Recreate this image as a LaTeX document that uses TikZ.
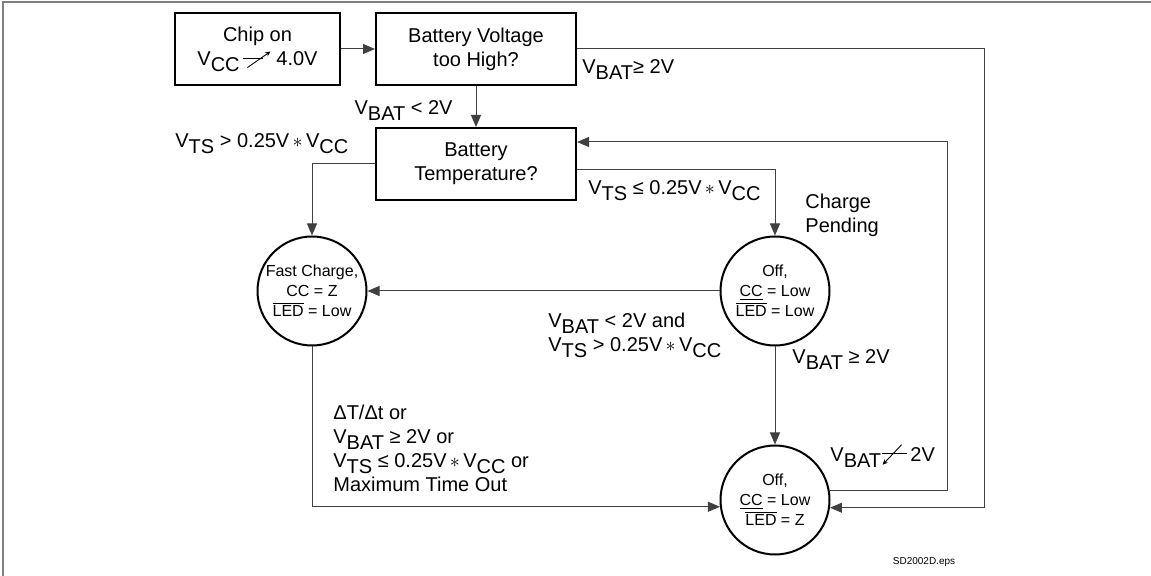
\documentclass[tikz,border=0pt]{standalone}
\usepackage{fontspec}
\setmainfont{Liberation Sans}
\usetikzlibrary{arrows.meta}
\newcommand\sbs[1]{\raisebox{-0.3em}{#1}}
\newcommand\ovl[1]{\setbox0\hbox{#1}\rlap{\rule[\dimexpr\ht0+0.7pt\relax]{\wd0}{0.45pt}}\box0\relax}
\newcommand\risesym{\tikz[baseline=0pt,x=1pt,y=1pt]{\draw[line width=0.45pt,black] (0,3.2)--(10,3.2); \draw[line width=0.45pt,black,-{Stealth[length=2.6pt,width=2.4pt]}] (2,-1.2)--(13.5,6.8);}}
\newcommand\fallsym{\tikz[baseline=0pt,x=1pt,y=1pt]{\draw[line width=0.45pt,black] (0,4)--(12.5,4); \draw[line width=0.45pt,black,-{Stealth[length=2.6pt,width=2.4pt]}] (10,8.5)--(0.5,-1.5);}}
\begin{document}
\begin{tikzpicture}[x=0.5pt,y=-0.5pt,
  box/.style={draw=black,line width=1pt,minimum width=100pt,minimum height=36pt,align=center,font=\fontsize{10}{12}\selectfont,inner sep=0pt},
  st/.style={circle,draw=black,line width=1pt,minimum size=54.5pt,inner sep=0pt,align=center,font=\fontsize{8}{10}\selectfont},
  lab/.style={font=\fontsize{10}{12}\selectfont,inner sep=0pt,align=left},
  con/.style={draw=black!75,line width=0.5pt,-{Triangle[length=6pt,width=5pt]}}]

\useasboundingbox (0,0) rectangle (1151,576);
\draw[black!50,line width=1pt] (3,576) -- (3,2) -- (1151,2);

\node[box,minimum width=82.5pt] (b1) at (257.5,49) {Chip on\\V\sbs{CC}\,\risesym\ 4.0V};
\node[box] (b2) at (476,49) {Battery Voltage\\too High?};
\node[box] (b3) at (476,164) {Battery\\Temperature?};
\node[st] (c1) at (312,291) {Fast Charge,\\CC = Z\\\ovl{LED} = Low};
\node[st] (c2) at (775,291) {Off,\\\underline{CC} = Low\\\ovl{LED} = Low};
\node[st] (c3) at (775,500) {Off,\\\underline{CC} = Low\\\ovl{LED} = Z};

\coordinate (r1) at (984,49);
\coordinate (r2) at (947,142);
\coordinate (l1) at (312,164);
\coordinate (t2) at (775,170);

\draw[con] (b1.east) -- (b2.west);
\draw[con] (b2.south) -- (b3.north);
\draw[con] (b2.east) -- (r1) |- (c3.-8.5);
\draw[con] (c3.10.6) -| (r2) -- (b3.east |- r2);
\draw[con] (b3.west) -- (l1) -- (c1.north);
\draw[con] (t2 -| b3.east) -- (t2) -- (c2.north);
\draw[con] (c2.west) -- (c1.east);
\draw[con] (c2.south) -- (c3.north);
\draw[con] (c1.south) |- (c3.187.4);

\node[lab,anchor=west] (lvh) at (582,70) {V\sbs{BAT}≥ 2V};
\node[lab,anchor=east] (llo) at (453,111) {V\sbs{BAT} < 2V};
\node[lab,anchor=west] (lts1) at (175,144) {V\sbs{TS} > 0.25V\,$\ast$\,V\sbs{CC}};
\node[lab,anchor=west] (lts2) at (588,191) {V\sbs{TS} ≤ 0.25V\,$\ast$\,V\sbs{CC}};
\node[lab,anchor=west] (lcp) at (805,215) {Charge\\Pending};
\node[lab,anchor=west] (land) at (548,335) {V\sbs{BAT} < 2V and\\V\sbs{TS} > 0.25V\,$\ast$\,V\sbs{CC}};
\node[lab,anchor=west] (lge) at (792,360) {V\sbs{BAT} ≥ 2V};
\node[lab,anchor=west] (lmx) at (333,448) {ΔT/Δt or\\V\sbs{BAT} ≥ 2V or\\V\sbs{TS} ≤ 0.25V\,$\ast$\,V\sbs{CC} or\\Maximum Time Out};
\node[lab,anchor=west] (lfall) at (830,456) {V\sbs{BAT}\fallsym\,2V};
\node[font=\fontsize{5}{6}\selectfont,inner sep=0pt] (fn) at (924,562) {SD2002D.eps};
\end{tikzpicture}
\end{document}
